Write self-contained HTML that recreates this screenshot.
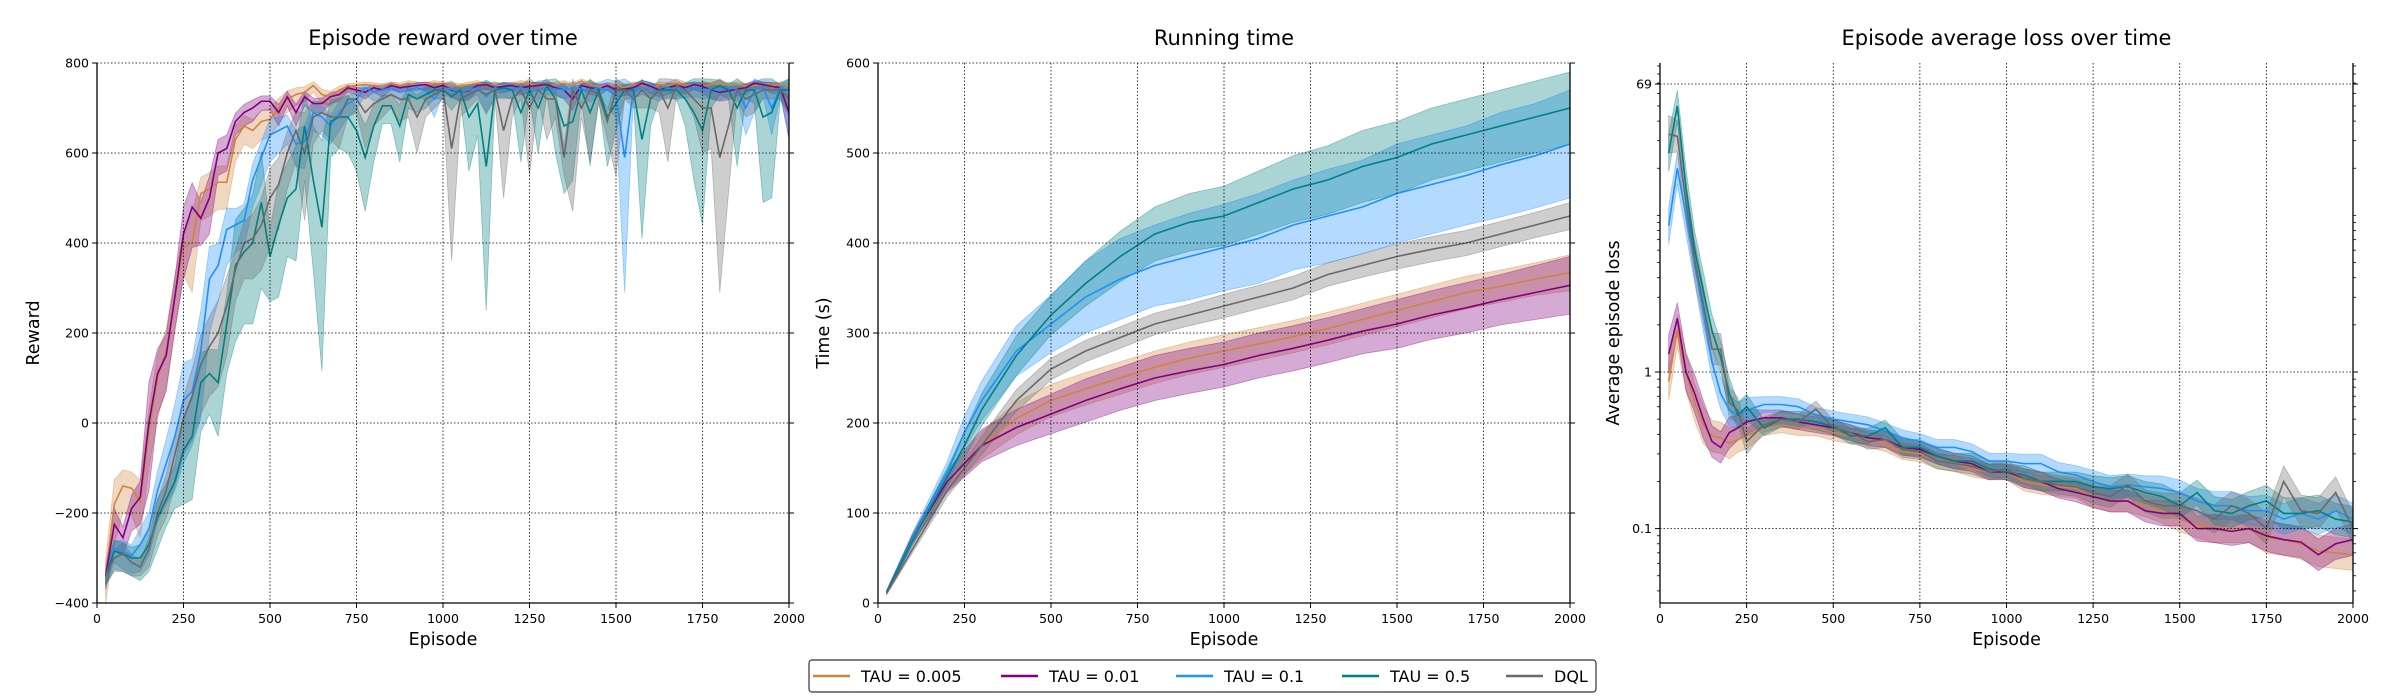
<!DOCTYPE html>
<html><head><meta charset="utf-8"><style>
html,body{margin:0;padding:0;background:#fff;}
svg{display:block;font-family:"DejaVu Sans","Liberation Sans",sans-serif;}
</style></head><body>
<svg id="fig" width="2400" height="700" viewBox="0 0 2400 700" xmlns="http://www.w3.org/2000/svg"></svg>
<script>
// ---------- DATA ----------
const rewardEpisodes=[];for(let e=25;e<=2000;e+=25)rewardEpisodes.push(e);
const rewardTau005=[-340,-180,-140,-145,-175,-20,100,160,280,390,400,510,520,535,535,630,660,650,670,675,700,720,730,735,750,730,725,740,748,750,752,750,748,752,750,755,752,750,755,752,750,748,752,755,750,752,748,750,755,752,750,748,752,755,750,760,752,748,750,752,745,752,750,740,752,750,755,752,750,748,752,755,750,752,748,750,752,750,752,750];
const rewardTau001=[-340,-225,-255,-190,-165,0,110,150,280,420,480,455,500,600,610,670,690,700,715,715,690,725,690,725,710,710,725,730,745,740,735,745,740,750,745,748,750,752,745,750,740,735,738,750,752,745,748,750,745,748,750,752,745,740,720,750,745,742,750,740,742,745,755,748,740,745,750,745,752,748,740,735,738,742,745,755,752,748,745,690];
const rewardTau01=[-340,-280,-285,-295,-270,-235,-150,-90,-30,50,70,160,320,350,430,440,450,540,590,640,650,660,620,625,690,680,660,690,710,720,745,735,740,745,735,740,745,738,720,745,742,735,740,745,725,745,740,742,745,738,740,745,742,740,745,742,738,745,740,730,590,740,745,742,735,745,740,742,745,740,742,738,745,742,700,740,745,700,745,740];
const rewardTau05=[-340,-285,-290,-300,-300,-270,-210,-170,-130,-60,-30,90,110,90,220,350,380,400,490,370,440,500,520,660,540,435,670,680,680,650,590,660,705,705,660,730,720,730,740,740,725,740,680,710,570,740,745,740,690,740,700,750,720,660,670,740,690,740,680,710,740,740,630,720,740,740,740,720,690,650,740,750,740,700,740,740,680,690,740,740];
const rewardDQL=[-340,-300,-290,-310,-320,-280,-200,-150,-70,10,60,130,170,200,260,340,400,410,440,500,530,600,650,600,680,690,680,680,720,720,690,710,720,730,720,720,680,720,730,740,610,720,730,740,730,740,650,720,740,700,740,720,720,590,740,700,740,730,670,740,740,720,740,720,740,700,750,740,720,700,700,590,660,740,720,730,740,740,740,720];
const rewardSpread005=[60,90,60,60,80,80,90,80,80,60,110,60,60,60,60,50,40,40,40,40,35,30,25,20,15,20,20,15,10,10,10,10,10,10,10,10,10,10,10,10,10,10,10,10,10,10,10,10,10,10,10,10,10,10,10,10,10,10,10,10,15,10,10,20,10,10,40,10,10,10,10,10,10,10,10,10,10,10,10,10];
const rewardSpread001=[30,60,40,50,60,150,90,80,70,100,90,60,80,50,50,30,30,30,20,20,30,20,30,20,20,20,15,15,10,10,15,10,15,10,10,10,10,10,15,10,15,20,20,10,10,10,15,10,15,15,10,10,15,20,25,10,15,15,10,15,15,15,10,15,15,15,10,15,10,15,20,20,20,15,15,10,10,15,15,60];
const rewardSpread01=[20,30,40,40,60,60,70,90,120,140,120,150,120,80,80,60,60,60,60,60,50,40,50,60,40,40,40,40,30,25,15,20,20,15,20,20,20,20,40,15,20,20,20,15,40,20,20,20,15,20,20,15,15,20,20,20,25,20,40,50,300,20,15,20,20,20,20,20,20,20,20,20,20,20,60,50,20,60,20,100];
const rewardSpread05=[20,40,40,40,50,60,70,60,60,120,140,110,90,120,110,170,160,180,190,100,160,130,160,120,200,320,80,70,80,90,120,80,40,40,80,30,30,30,20,20,30,20,120,70,320,20,20,20,110,20,100,20,120,150,130,20,120,20,110,60,20,20,220,60,20,20,20,60,150,210,40,20,20,130,20,30,190,190,20,50];
const rewardSpread02=[20,30,40,30,20,40,50,60,70,80,100,110,110,120,110,70,80,90,100,110,100,80,70,150,60,40,50,70,40,30,80,50,40,30,50,40,80,40,30,20,250,40,30,20,40,20,150,40,20,150,20,90,40,40,270,20,160,20,40,190,20,20,40,20,50,120,20,20,40,100,90,300,150,20,40,40,20,20,20,40];
const timeEpisodes=[25,100,200,250,300,400,500,600,700,800,900,1000,1100,1200,1300,1400,1500,1600,1700,1800,1900,2000];
const timeTau005=[12,70,135,155,175,205,225,238,250,262,272,280,288,296,305,315,325,335,345,352,360,367];
const timeTau001=[12,72,135,155,175,195,210,225,238,250,258,265,275,283,292,302,310,320,328,337,345,353];
const timeTau01=[12,72,145,190,225,280,310,340,360,375,385,395,405,420,430,440,455,465,475,487,497,510];
const timeTau05=[12,70,140,175,215,275,320,355,385,410,423,430,445,460,470,485,495,510,520,530,540,550];
const timeDQL=[11,60,125,150,175,225,260,280,295,310,320,330,340,350,365,375,385,393,400,410,420,430];
const timeSpread005=[2,5,10,12,15,18,18,18,18,18,18,18,18,18,18,18,18,18,18,18,18,20];
const timeSpread001=[2,5,12,15,18,20,22,24,24,25,25,25,25,25,25,25,27,27,28,28,30,32];
const timeSpread01=[2,6,12,18,22,28,32,40,45,45,48,48,50,50,52,52,55,55,55,58,58,60];
const timeSpread05=[2,5,10,15,18,22,22,25,28,30,32,33,35,37,38,40,40,40,40,40,40,40];
const timeSpread02=[2,4,7,8,10,12,12,12,12,12,12,13,13,13,13,13,14,14,14,14,14,15];
const lossEpisodes=[25,50,75,100,125,150,175,200,225,250,300,350,400,450,500,550,600,650,700,750,800,850,900,950,1000,1050,1100,1150,1200,1250,1300,1350,1400,1450,1500,1550,1600,1650,1700,1750,1800,1850,1900,1950,2000];
const lossTau005=[0.87,1.84,1.0,0.64,0.46,0.39,0.38,0.35,0.37,0.39,0.44,0.46,0.44,0.44,0.41,0.39,0.37,0.35,0.31,0.3,0.27,0.26,0.24,0.23,0.23,0.2,0.19,0.185,0.18,0.16,0.15,0.15,0.14,0.13,0.115,0.105,0.1,0.1,0.1,0.088,0.085,0.08,0.072,0.07,0.068];
const lossTau001=[1.3,2.2,1.0,0.73,0.5,0.36,0.33,0.41,0.44,0.48,0.51,0.51,0.48,0.46,0.44,0.41,0.38,0.37,0.33,0.32,0.29,0.27,0.26,0.23,0.23,0.21,0.2,0.18,0.17,0.16,0.15,0.15,0.13,0.125,0.125,0.1,0.1,0.096,0.1,0.09,0.085,0.082,0.068,0.08,0.085];
const lossTau01=[8.6,20,10,4.9,2.4,1.16,0.73,0.57,0.53,0.57,0.62,0.62,0.6,0.53,0.5,0.48,0.46,0.42,0.38,0.36,0.33,0.33,0.31,0.27,0.27,0.26,0.26,0.23,0.22,0.2,0.185,0.19,0.185,0.18,0.17,0.15,0.14,0.14,0.13,0.13,0.115,0.125,0.115,0.13,0.115];
const lossTau05=[25,50,15,6,3.3,1.84,1.24,0.73,0.53,0.6,0.44,0.5,0.5,0.48,0.45,0.39,0.39,0.44,0.33,0.33,0.29,0.27,0.27,0.24,0.23,0.22,0.2,0.2,0.2,0.185,0.18,0.185,0.17,0.16,0.14,0.17,0.13,0.125,0.14,0.15,0.125,0.125,0.13,0.115,0.11];
const lossDQL=[33,32,12,5.2,2.7,1.4,1.4,0.64,0.57,0.36,0.46,0.5,0.48,0.58,0.44,0.41,0.36,0.37,0.32,0.31,0.27,0.26,0.25,0.23,0.24,0.21,0.2,0.19,0.185,0.17,0.16,0.19,0.15,0.14,0.14,0.13,0.115,0.14,0.125,0.1,0.2,0.13,0.125,0.17,0.1];
const lossLogSpread=[0.12,0.1,0.12,0.12,0.12,0.1,0.1,0.1,0.08,0.08,0.05,0.05,0.05,0.05,0.05,0.05,0.05,0.05,0.05,0.05,0.05,0.05,0.05,0.05,0.05,0.06,0.06,0.06,0.06,0.07,0.07,0.07,0.07,0.08,0.08,0.08,0.09,0.09,0.09,0.1,0.1,0.1,0.1,0.1,0.1];
const seriesNames=["TAU = 0.005","TAU = 0.01","TAU = 0.1","TAU = 0.5","DQL"];
const seriesColors=["#cd853f","#800080","#1e90ff","#008080","#696969"];
const xTicks=[0,250,500,750,1000,1250,1500,1750,2000];
const rewardTicks=[-400,-200,0,200,400,600,800];
const timeTicks=[0,100,200,300,400,500,600];
const lossTickVals=[69,1,0.1];

// ---------- DRAW ----------
const NS="http://www.w3.org/2000/svg";
const fig=document.getElementById('fig');
function el(tag,attrs,parent){const e=document.createElementNS(NS,tag);for(const k in attrs)e.setAttribute(k,attrs[k]);(parent||fig).appendChild(e);return e;}
const Y0=63,Y1=603;
function fmt(v){return v<0?'\u2212'+(-v):String(v);}

function panel(opts){
  const g=el('g',{});
  
  
  const L=opts.x0,R=opts.x1;
  const sx=e=>L+(e/2000)*(R-L);
  const sy=opts.sy;
  opts.series.forEach((s,i)=>{
    const up=[],dn=[];
    for(let k=0;k<opts.xs.length;k++){up.push(sx(opts.xs[k])+','+sy(s.hi[k]));dn.push(sx(opts.xs[k])+','+sy(s.lo[k]));}
    const b=el('polygon',{points:up.concat(dn.reverse()).join(' '),fill:seriesColors[i],'fill-opacity':0.33,stroke:seriesColors[i],'stroke-opacity':0.4,'stroke-width':0.8},g);
    
    
  });
  opts.series.forEach((s,i)=>{
    const pts=opts.xs.map((x,k)=>sx(x)+','+sy(s.m[k])).join(' ');
    const l=el('polyline',{points:pts,fill:'none',stroke:seriesColors[i],'stroke-width':1.6},g);
    
    
  });
  xTicks.forEach(t=>{
    if(t>0&&t<2000)el('line',{x1:sx(t),x2:sx(t),y1:Y0,y2:Y1,stroke:'#000','stroke-width':0.8,'stroke-dasharray':'1.5,2'},g);
    el('line',{x1:sx(t),x2:sx(t),y1:Y1,y2:Y1+5,stroke:'#000','stroke-width':1},g);
    const tl=el('text',{x:sx(t),y:Y1+20,'font-size':12.5,'text-anchor':'middle'},g);tl.textContent=t;
    
    
  });
  opts.yTicks.forEach(t=>{
    const y=sy(t);
    el('line',{x1:L,x2:R,y1:y,y2:y,stroke:'#000','stroke-width':0.8,'stroke-dasharray':'1.5,2'},g);
    el('line',{x1:L-5,x2:L,y1:y,y2:y,stroke:'#000','stroke-width':1},g);
    el('line',{x1:R,x2:R+5,y1:y,y2:y,stroke:'#000','stroke-width':1},g);
    const tl=el('text',{x:L-8,y:y+4.5,'font-size':12.5,'text-anchor':'end'},g);tl.textContent=opts.yFmt(t);
    
    
  });
  if(opts.minor)opts.minor.forEach(y=>{
    el('line',{x1:L-3,x2:L,y1:y,y2:y,stroke:'#000','stroke-width':0.8},g);
    el('line',{x1:R,x2:R+3,y1:y,y2:y,stroke:'#000','stroke-width':0.8},g);
  });
  el('line',{x1:L,x2:L,y1:Y0,y2:Y1,stroke:'#000','stroke-width':1.3},g);
  el('line',{x1:R,x2:R,y1:Y0,y2:Y1,stroke:'#000','stroke-width':1.3},g);
  el('line',{x1:L,x2:R,y1:Y1,y2:Y1,stroke:'#000','stroke-width':1.3},g);
  const tt=el('text',{x:(L+R)/2,y:45,'font-size':21,'text-anchor':'middle'},g);tt.textContent=opts.title;
  
  
  const xl=el('text',{x:(L+R)/2,y:645,'font-size':17.5,'text-anchor':'middle'},g);xl.textContent='Episode';
  
  
  const yl=el('text',{x:0,y:0,'font-size':17.5,'text-anchor':'middle',transform:'translate('+opts.ylx+','+((Y0+Y1)/2)+') rotate(-90)'},g);yl.textContent=opts.ylabel;
  
  
}

const rMeans=[rewardTau005,rewardTau001,rewardTau01,rewardTau05,rewardDQL];
const rSpr=[rewardSpread005,rewardSpread001,rewardSpread01,rewardSpread05,rewardSpread02];
panel({name:'reward-chart',x0:97,x1:789,title:'Episode reward over time',ylabel:'Reward',ylx:39,
  xs:rewardEpisodes,yTicks:rewardTicks,yFmt:fmt,
  sy:v=>Y1-(v+400)/1200*(Y1-Y0),
  series:rMeans.map((m,i)=>({m:m,hi:m.map((v,k)=>Math.min(v+rSpr[i][k]*0.6,765)),lo:m.map((v,k)=>v-rSpr[i][k])}))});
const tMeans=[timeTau005,timeTau001,timeTau01,timeTau05,timeDQL];
const tSpr=[timeSpread005,timeSpread001,timeSpread01,timeSpread05,timeSpread02];
panel({name:'time-chart',x0:878,x1:1570,title:'Running time',ylabel:'Time (s)',ylx:829,
  xs:timeEpisodes,yTicks:timeTicks,yFmt:fmt,
  sy:v=>Y1-v/600*(Y1-Y0),
  series:tMeans.map((m,i)=>({m:m,hi:m.map((v,k)=>v+tSpr[i][k]),lo:m.map((v,k)=>v-tSpr[i][k])}))});
const lossSy=v=>372-Math.log10(v)*156.6;
const minorY=[];
for(let d=-2;d<=1;d++)for(let m=1;m<=9;m++){const v=m*Math.pow(10,d);const y=lossSy(v);if(y>Y0&&y<Y1&&m!==1)minorY.push(y);}
minorY.push(lossSy(10));
const lMeans=[lossTau005,lossTau001,lossTau01,lossTau05,lossDQL];
panel({name:'loss-chart',x0:1660,x1:2353,title:'Episode average loss over time',ylabel:'Average episode loss',ylx:1619,
  xs:lossEpisodes,yTicks:lossTickVals,yFmt:v=>String(v),minor:minorY,
  sy:lossSy,
  series:lMeans.map((m,i)=>({m:m,hi:m.map((v,k)=>v*Math.pow(10,lossLogSpread[k])),lo:m.map((v,k)=>v/Math.pow(10,lossLogSpread[k]))}))});

const lg=el('g',{});


el('rect',{x:809,y:660,width:787,height:32,rx:3,fill:'#fff',stroke:'#333','stroke-width':1.2},lg);
const lx=[813,1001,1176,1342,1506];
seriesNames.forEach((n,i)=>{
  const e=el('g',{},lg);
  
  
  el('line',{x1:lx[i],x2:lx[i]+37,y1:676,y2:676,stroke:seriesColors[i],'stroke-width':2.6},e);
  const t=el('text',{x:lx[i]+48,y:682,'font-size':16},e);t.textContent=n;
});
</script>
</body></html>
